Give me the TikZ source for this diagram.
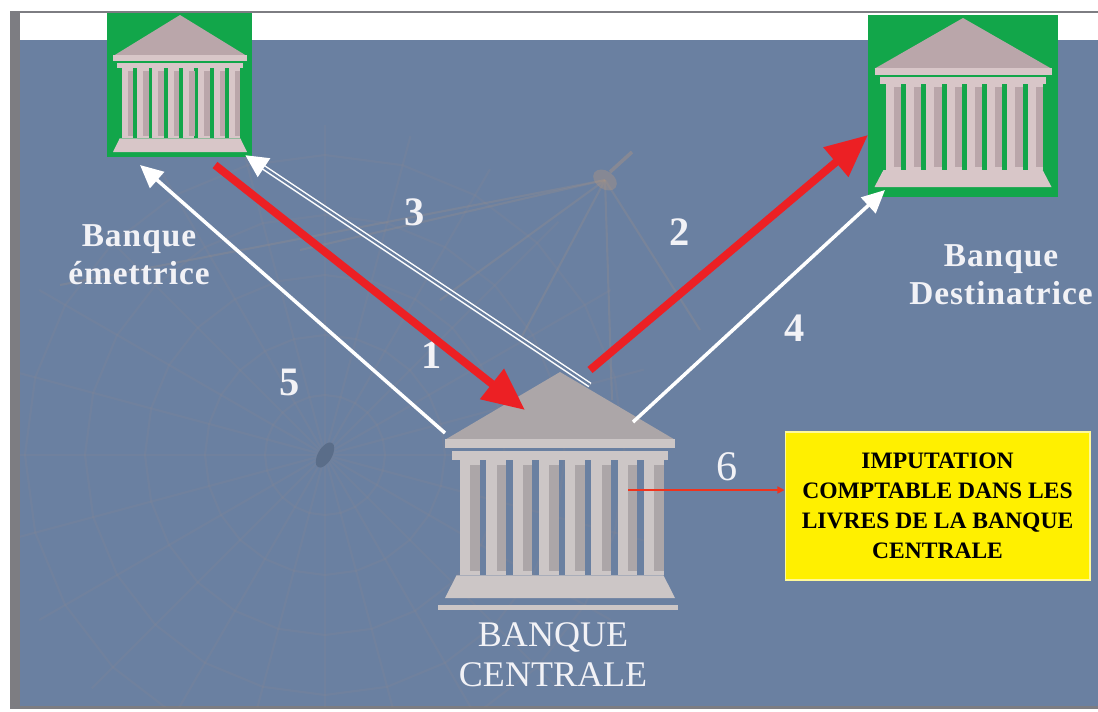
\documentclass[tikz,border=0pt]{standalone}
\usepackage{fontspec}
\setmainfont{Liberation Serif}
\usetikzlibrary{arrows.meta}

\definecolor{bgblue}{RGB}{106,128,161}
\definecolor{framegray}{RGB}{125,125,130}
\definecolor{bankgreen}{RGB}{18,166,74}
\definecolor{arrowred}{RGB}{236,32,36}
\definecolor{noteyellow}{RGB}{255,240,0}
\definecolor{roofpink}{RGB}{186,166,170}
\definecolor{colpink}{RGB}{216,198,200}
\definecolor{roofgray}{RGB}{172,166,168}
\definecolor{colgray}{RGB}{204,198,198}
\definecolor{webtan}{RGB}{176,150,130}
\definecolor{labelwhite}{RGB}{242,242,246}

% temple: apex x, apex y, width, height, roof colour, column colour
\newcommand{\temple}[6]{%
  \begin{scope}[shift={(#1,#2)}, xscale=#3, yscale=#4]
    \fill[#5] (0,0) -- (0.5,0.3) -- (-0.5,0.3) -- cycle;
    \fill[#6] (-0.5,0.295) rectangle (0.5,0.335);
    \fill[#6] (-0.47,0.35) rectangle (0.47,0.39);
    \foreach \k in {0,...,7} {
      \fill[#6] ({-0.435+\k*0.1143},0.39) rectangle ++(0.086,0.51);
      \fill[#5] ({-0.435+\k*0.1143+0.045},0.41) rectangle ++(0.041,0.47);
    }
    \fill[#6] (-0.45,0.9) -- (0.45,0.9) -- (0.5,1) -- (-0.5,1) -- cycle;
  \end{scope}}

\begin{document}
\begin{tikzpicture}[x=0.02cm, y=-0.02cm,
    redarrow/.style = {draw=arrowred, line width=4.5pt, -{Triangle[length=24pt,width=21pt]}},
    whitearrow/.style = {draw=white, line width=2pt, -{Triangle[length=13pt,width=12pt]}},
    thinarrow/.style = {draw=arrowred!80!orange, line width=0.8pt, -{Triangle[length=4pt,width=4pt]}},
    weblines/.style = {draw=webtan, line width=1.2pt, opacity=0.09},
    banklabel/.style = {text=labelwhite, align=center,
      font=\fontsize{19}{21.5}\selectfont\bfseries\addfontfeatures{LetterSpace=3}},
    stepnum/.style = {text=labelwhite, font=\fontsize{23}{23}\selectfont\bfseries},
    notebox/.style = {fill=noteyellow, draw=white!60!noteyellow, line width=0.6pt,
      minimum width=6.1cm, minimum height=2.96cm, align=center,
      font=\fontsize{13.4}{17}\selectfont\bfseries}]

  \useasboundingbox (0,0) rectangle (1098,711);

  % frame and background
  \fill[white] (0,0) rectangle (1098,711);
  \fill[framegray] (10,11) rectangle (1098,709);
  \fill[bgblue] (20,40) rectangle (1098,706);
  \fill[white] (20,13) rectangle (1098,40);

  % faint web in the background
  \begin{scope}
    \clip (20,40) rectangle (1098,706);
    \foreach \a in {0,15,...,345}
      \draw[weblines] (325,455) -- ++(\a:330);
    \foreach \r in {60,120,180,240,300}
      \draw[weblines, shift={(325,455)}] (0:\r)
        \foreach \a in {15,30,...,345} { -- (\a:\r) } -- cycle;
    \foreach \p in {(60,285),(300,250),(440,300),(520,340),(612,400),(700,330)}
      \draw[weblines, opacity=0.2] (605,180) -- \p;
    \fill[webtan, opacity=0.4, rotate around={-35:(605,180)}] (605,180) ellipse (13 and 9);
    \draw[webtan, opacity=0.4, line width=2pt] (610,172) -- (632,152);
    \fill[bgblue!85!black, rotate around={60:(325,455)}] (325,455) ellipse (14 and 7);
  \end{scope}

  % issuing bank
  \fill[bankgreen] (107,13) rectangle (252,157);
  \temple{180}{15}{134}{137}{roofpink}{colpink}
  % receiving bank
  \fill[bankgreen] (868,15) rectangle (1058,197);
  \temple{963}{18}{177}{169}{roofpink}{colpink}
  % central bank
  \temple{560}{372}{230}{226}{roofgray}{colgray}
  \fill[colgray] (438,605) rectangle (678,610);

  \node[banklabel] (emettrice) at (139,255) {Banque\\émettrice};
  \node[banklabel] (destinatrice) at (1001,275) {Banque\\Destinatrice};
  \node[text=labelwhite, font=\fontsize{20.5}{23}\selectfont, align=center]
    (centrale) at (553,655) {BANQUE\\CENTRALE};
  \node[notebox] (note) at (937.5,506)
    {IMPUTATION\\COMPTABLE DANS LES\\LIVRES DE LA BANQUE\\CENTRALE};

  \node[stepnum] (n1) at (432,355) {1};
  \node[stepnum] (n2) at (680,232) {2};
  \node[stepnum] (n3) at (415,212) {3};
  \node[stepnum] (n4) at (795,328) {4};
  \node[stepnum] (n5) at (290,382) {5};
  \node[text=labelwhite, font=\fontsize{24}{24}\selectfont] (n6) at (727,467) {6};

  % arrow ends
  \coordinate (emet-out) at (215,165);
  \coordinate (emet-in3) at (245,155);
  \coordinate (emet-in5) at (140,165);
  \coordinate (dest-in2) at (868,135);
  \coordinate (dest-in4) at (885,190);
  \coordinate (cent-in1) at (525,410);
  \coordinate (cent-out2) at (590,370);
  \coordinate (cent-out3) at (590,385);
  \coordinate (cent-out4) at (633,422);
  \coordinate (cent-out5) at (445,433);
  \coordinate (cent-book) at (628,490);

  \draw[redarrow] (emet-out) -- (cent-in1);
  \draw[redarrow] (cent-out2) -- (dest-in2);
  \draw[whitearrow, line width=3pt] (cent-out3) -- (emet-in3);
  \draw[bgblue, line width=1.3pt, shorten >=13pt] (cent-out3) -- (emet-in3);
  \draw[whitearrow] (cent-out4) -- (dest-in4);
  \draw[whitearrow] (cent-out5) -- (emet-in5);
  \draw[thinarrow] (cent-book) -- (note.west |- cent-book);
\end{tikzpicture}
\end{document}
